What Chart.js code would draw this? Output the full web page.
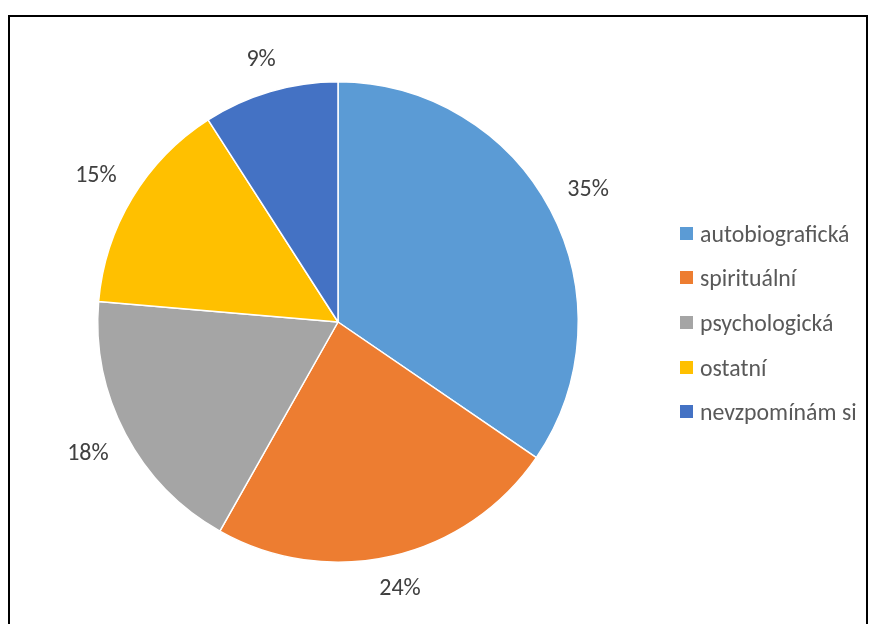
<!DOCTYPE html>
<html>
<head>
<meta charset="utf-8">
<script src="https://cdn.jsdelivr.net/npm/chart.js@4"></script>
<style>
  body { margin: 0; background: #fff; overflow: hidden; }
  #frame { position: absolute; left: 8px; top: 15px; width: 856px; height: 700px; border: 2px solid #000; }
  #wrap { position: absolute; left: 0; top: 0; width: 869px; height: 624px; }
  #legend { position: absolute; left: 680px; top: 211px; font-family: Carlito, "Open Sans", sans-serif; font-size: 23.8px; color: #595959; }
  #legend div { height: 44.6px; display: flex; align-items: center; white-space: nowrap; }
  #legend span.box { display: inline-block; width: 13px; height: 13px; margin-right: 7px; }
</style>
</head>
<body>
<div id="frame"></div>
<div id="wrap"><canvas id="chart" width="869" height="624"></canvas></div>
<div id="legend"></div>
<script>
const categories = ['autobiografická', 'spirituální', 'psychologická', 'ostatní', 'nevzpomínám si'];
// counts; they round to 35 / 24 / 18 / 15 / 9 %
const counts = [38, 26, 20, 16, 10];
const colors = ['#5B9BD5', '#ED7D31', '#A5A5A5', '#FFC000', '#4472C4'];

const total = counts.reduce((a, b) => a + b, 0);

// percent labels outside the slices, box edge kept ~20px off the rim
const outsideLabels = {
  id: 'outsideLabels',
  afterDatasetsDraw(chart) {
    const ctx = chart.ctx;
    const meta = chart.getDatasetMeta(0);
    ctx.save();
    ctx.font = '24px Carlito, "Open Sans", sans-serif';
    ctx.fillStyle = '#404040';
    ctx.textAlign = 'center';
    ctx.textBaseline = 'middle';
    meta.data.forEach((arc, i) => {
      const text = Math.round(counts[i] / total * 100) + '%';
      const w = ctx.measureText(text).width;
      const h = 18;
      const mid = (arc.startAngle + arc.endAngle) / 2;
      const c = Math.cos(mid), s = Math.sin(mid);
      const r = arc.outerRadius + 20 + Math.abs(c) * w / 2 + Math.abs(s) * h / 2;
      ctx.fillText(text, arc.x + c * r, arc.y + s * r);
    });
    ctx.restore();
  }
};

new Chart(document.getElementById('chart'), {
  type: 'pie',
  data: {
    labels: categories,
    datasets: [{
      data: counts,
      backgroundColor: colors,
      borderColor: '#fff',
      borderWidth: 1.5
    }]
  },
  options: {
    responsive: false,
    animation: false,
    layout: { padding: { left: 97, right: 290, top: 81, bottom: 61 } },
    plugins: { legend: { display: false }, tooltip: { enabled: false } }
  },
  plugins: [outsideLabels]
});

const legend = document.getElementById('legend');
categories.forEach((name, i) => {
  const row = document.createElement('div');
  row.innerHTML = '<span class="box" style="background:' + colors[i] + '"></span>' + name;
  legend.appendChild(row);
});
</script>
</body>
</html>
